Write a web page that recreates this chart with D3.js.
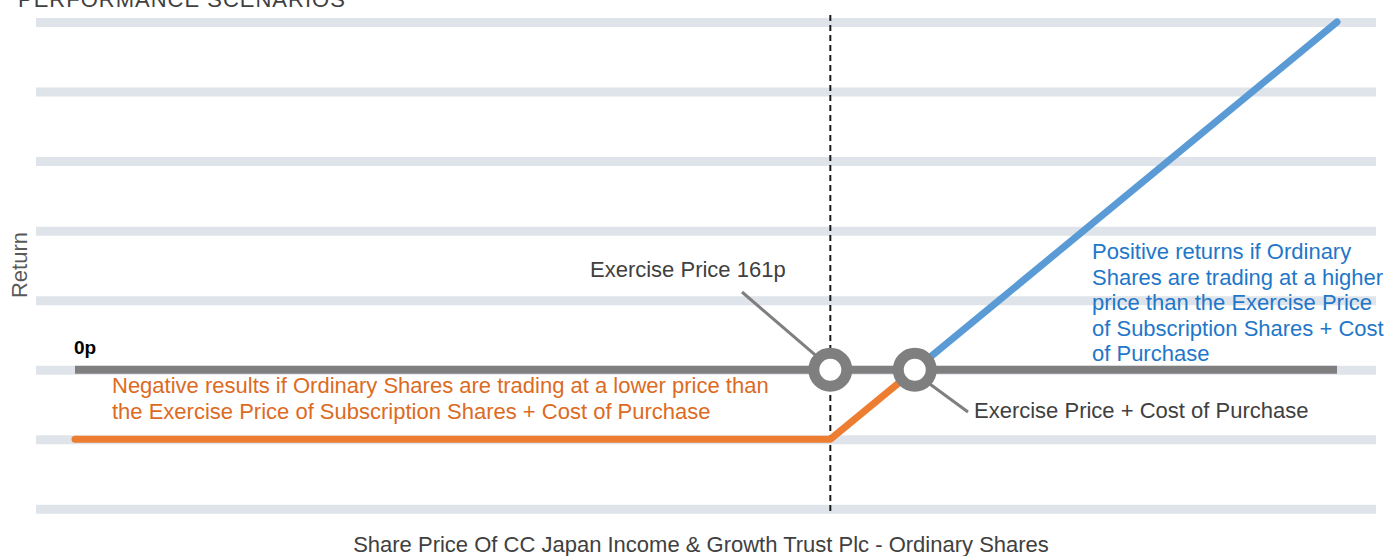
<!DOCTYPE html>
<html>
<head>
<meta charset="utf-8">
<script src="https://cdn.jsdelivr.net/npm/d3@7"></script>
<style>
  body { margin: 0; background: #fff; }
  svg { display: block; font-family: "Liberation Sans", Arial, sans-serif; }
</style>
</head>
<body>
<div id="chart"></div>
<script>
// Share price (pence) vs return (pence)
const exercisePrice = 161;
const breakEven = 179;
const priceMax = 269;
const gridTicks = [-36, -18, 0, 18, 36, 54, 72, 90];

const lossSeries = [[0, -18], [161, -18], [179, 0]];
const gainSeries = [[179, 0], [269, 90]];
const zeroSeries = [[0, 0], [269, 0]];

const blueLines = [
    'Positive returns if Ordinary',
    'Shares are trading at a higher',
    'price than the Exercise Price',
    'of Subscription Shares + Cost',
    'of Purchase'
];
const orangeLines = [
    'Negative results if Ordinary Shares are trading at a lower price than',
    'the Exercise Price of Subscription Shares + Cost of Purchase'
];

const W = 1388, H = 556;
const svg = d3.select('#chart').append('svg')
    .attr('width', W)
    .attr('height', H);

const x = d3.scaleLinear().domain([0, priceMax]).range([75, 1337]);
const y = d3.scaleLinear().domain([-36, 90]).range([508.8, 22]);

// Gridline bands
const grid = svg.append('g')
    .attr('transform', 'translate(36,0)')
    .call(d3.axisLeft(y).tickValues(gridTicks).tickSize(-1340).tickFormat(''));
grid.select('.domain').remove();
grid.selectAll('.tick line')
    .attr('stroke', '#dfe3ea')
    .attr('stroke-width', 9);

// Title (cropped at top, as in the source)
svg.append('text')
    .attr('x', 18)
    .attr('y', 7)
    .style('font-size', '22px')
    .style('letter-spacing', '1px')
    .attr('fill', '#404040')
    .text('PERFORMANCE SCENARIOS');

const line = d3.line().x(d => x(d[0])).y(d => y(d[1]));

// Zero return line
svg.append('path')
    .datum(zeroSeries)
    .attr('d', line)
    .attr('fill', 'none')
    .attr('stroke', '#7f7f7f')
    .attr('stroke-width', 8);

// Dashed exercise price line
svg.append('line')
    .attr('x1', x(exercisePrice)).attr('x2', x(exercisePrice))
    .attr('y1', 15).attr('y2', 512)
    .attr('stroke', '#1a1a1a')
    .attr('stroke-width', 2)
    .attr('stroke-dasharray', '6,4');

svg.append('path')
    .datum(lossSeries)
    .attr('d', line)
    .attr('fill', 'none')
    .attr('stroke', '#ed7d31')
    .attr('stroke-width', 7)
    .attr('stroke-linecap', 'round')
    .attr('stroke-linejoin', 'round');

svg.append('path')
    .datum(gainSeries)
    .attr('d', line)
    .attr('fill', 'none')
    .attr('stroke', '#5b9bd5')
    .attr('stroke-width', 7)
    .attr('stroke-linecap', 'round');

// Leader lines
svg.append('line')
    .attr('x1', 742).attr('y1', 292)
    .attr('x2', x(exercisePrice) - 12).attr('y2', y(0) - 12)
    .attr('stroke', '#7f7f7f').attr('stroke-width', 3);
svg.append('line')
    .attr('x1', x(breakEven) + 12).attr('y1', y(0) + 12)
    .attr('x2', 968).attr('y2', 412)
    .attr('stroke', '#7f7f7f').attr('stroke-width', 3);

// Rings
svg.selectAll('.ring')
    .data([exercisePrice, breakEven])
    .enter().append('circle')
    .attr('class', 'ring')
    .attr('cx', d => x(d))
    .attr('cy', y(0))
    .attr('r', 16.5)
    .attr('fill', '#fff')
    .attr('stroke', '#7f7f7f')
    .attr('stroke-width', 11);

// Labels
svg.append('text')
    .attr('x', 74).attr('y', 354)
    .style('font-size', '19px')
    .style('font-weight', 'bold')
    .attr('fill', '#000')
    .text('0p');

svg.append('text')
    .attr('x', 590).attr('y', 277)
    .style('font-size', '22px')
    .attr('fill', '#404040')
    .text('Exercise Price 161p');

svg.append('text')
    .attr('x', 974).attr('y', 418)
    .style('font-size', '22px')
    .attr('fill', '#404040')
    .text('Exercise Price + Cost of Purchase');

svg.append('text')
    .attr('x', 112).attr('y', 393)
    .style('font-size', '22px')
    .attr('fill', '#dc6b1f')
    .selectAll('tspan')
    .data(orangeLines)
    .enter().append('tspan')
    .attr('x', 112)
    .attr('dy', (d, i) => i === 0 ? 0 : 25.5)
    .text(d => d);

svg.append('text')
    .attr('x', 1092).attr('y', 259)
    .style('font-size', '22px')
    .attr('fill', '#1f77c9')
    .selectAll('tspan')
    .data(blueLines)
    .enter().append('tspan')
    .attr('x', 1092)
    .attr('dy', (d, i) => i === 0 ? 0 : 25.5)
    .text(d => d);

// Axis titles
svg.append('text')
    .attr('transform', 'translate(27,265) rotate(-90)')
    .attr('text-anchor', 'middle')
    .style('font-size', '22px')
    .attr('fill', '#595959')
    .text('Return');

svg.append('text')
    .attr('x', 701).attr('y', 552)
    .attr('text-anchor', 'middle')
    .style('font-size', '22px')
    .attr('fill', '#404040')
    .text('Share Price Of CC Japan Income & Growth Trust Plc - Ordinary Shares');
</script>
</body>
</html>
